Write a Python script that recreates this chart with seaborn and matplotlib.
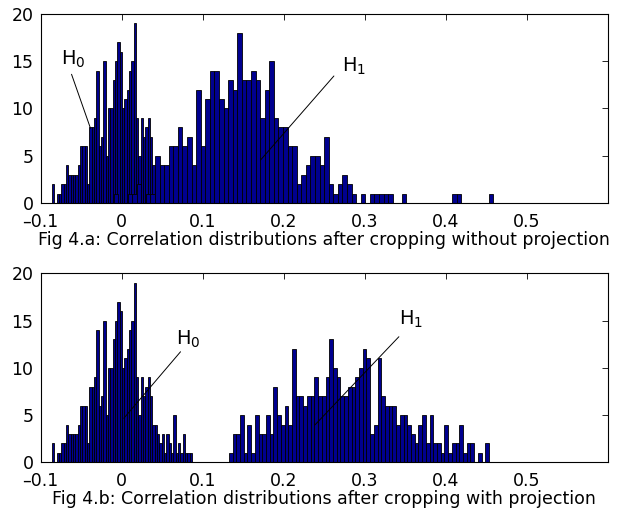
import numpy as np
import pandas as pd
import matplotlib
matplotlib.use("Agg")
import matplotlib.pyplot as plt
import seaborn as sns

# ---------------- data ----------------
# H0 histogram (same in both panels): 60 bins
h0_start, h0_width = -0.0860, 0.00288
h0_counts = [2, 0, 1, 1, 2, 2, 4, 3, 3, 3,
             3, 4, 6, 6, 6, 2, 8, 8, 9, 14,
             6, 7, 15, 5, 10, 10, 13, 15, 17, 16,
             10, 11, 12, 14, 15, 19, 9, 5, 9, 7,
             8, 9, 7, 4, 4, 3, 2, 3, 1, 3,
             2, 1, 5, 1, 2, 1, 3, 1, 1, 1]

# H1 histogram, panel a (without projection): 83 bins
h1a_start, h1a_width = -0.0094, 0.00564
h1a_counts = [1, 0, 0, 1, 1, 2, 0, 1, 1, 5,
              4, 4, 6, 6, 8, 6, 7, 4, 12, 6,
              11, 14, 14, 11, 10, 13, 12, 18, 13, 13,
              14, 13, 9, 12, 15, 9, 8, 8, 6, 6,
              2, 3, 4, 5, 5, 4, 7, 2, 1, 2,
              3, 2, 1, 0, 1, 0, 1, 1, 1, 1,
              1, 0, 0, 1, 0, 0, 0, 0, 0, 0,
              0, 0, 0, 0, 1, 1, 0, 0, 0, 0,
              0, 0, 1]

# H1 histogram, panel b (with projection): 70 bins
h1b_start, h1b_width = 0.1325, 0.004586
h1b_counts = [1, 3, 3, 5, 1, 4, 1, 5, 3, 3,
              5, 3, 8, 5, 4, 6, 4, 12, 7, 7,
              6, 7, 7, 9, 7, 7, 9, 13, 10, 9,
              7, 7, 8, 8, 9, 10, 12, 11, 3, 4,
              11, 7, 6, 6, 6, 4, 5, 5, 4, 3,
              2, 4, 5, 2, 5, 2, 2, 1, 4, 1,
              2, 2, 4, 1, 2, 2, 0, 1, 0, 2]

xticks = [-0.1, 0, 0.1, 0.2, 0.3, 0.4, 0.5]
xtick_labels = ["\u20130.1", "0", "0.1", "0.2", "0.3", "0.4", "0.5"]
yticks = [0, 5, 10, 15, 20]
captions = ["Fig 4.a: Correlation distributions after cropping without projection",
            "Fig 4.b: Correlation distributions after cropping with projection"]

BAR = "#00008F"

# ---------------- style ----------------
sns.set_style("white")
plt.rcParams["font.family"] = ["DejaVu Sans"]
plt.rcParams["mathtext.default"] = "regular"
for k in ("text.color", "axes.labelcolor", "xtick.color", "ytick.color", "axes.edgecolor"):
    plt.rcParams[k] = "black"

fig = plt.figure(figsize=(6.27, 5.13), dpi=100)
ax1 = fig.add_axes([0.0646, 0.6043, 0.9046, 0.3684])
ax2 = fig.add_axes([0.0646, 0.0988, 0.9046, 0.3684])


def draw_hist(ax, start, width, counts):
    counts = np.asarray(counts, dtype=float)
    edges = start + width * np.arange(len(counts) + 1)
    centers = 0.5 * (edges[:-1] + edges[1:])
    df = pd.DataFrame({"x": centers, "w": counts})
    sns.histplot(data=df, x="x", weights="w", bins=[float(e) for e in edges],
                 ax=ax, color=BAR, edgecolor="black", linewidth=0.6, alpha=1.0)


for ax, h1 in ((ax1, (h1a_start, h1a_width, h1a_counts)),
               (ax2, (h1b_start, h1b_width, h1b_counts))):
    draw_hist(ax, h0_start, h0_width, h0_counts)
    draw_hist(ax, *h1)
    ax.set_xlim(-0.1, 0.6)
    ax.set_ylim(0, 20)
    ax.set_xticks(xticks)
    ax.set_xticklabels(xtick_labels)
    ax.set_yticks(yticks)
    ax.set_xlabel("")
    ax.set_ylabel("")
    ax.tick_params(direction="in", length=4.5, width=0.6, top=True, right=True,
                   labelsize=12.5, colors="black")
    ax.tick_params(axis="x", pad=7)
    ax.tick_params(axis="y", pad=5)
    for s in ax.spines.values():
        s.set_visible(True)
        s.set_color("black")
        s.set_linewidth(0.8)

# annotations
ax1.text(-0.0753, 14.6, "$H_0$", fontsize=14, ha="left", va="baseline")
ax1.plot([-0.0617, -0.0383], [13.62, 7.9], color="black", lw=0.7)
ax1.text(0.2725, 13.86, "$H_1$", fontsize=14, ha="left", va="baseline")
ax1.plot([0.2621, 0.1716], [13.44, 4.55], color="black", lw=0.7)

ax2.text(0.0667, 12.41, "$H_0$", fontsize=14, ha="left", va="baseline")
ax2.plot([0.0728, 0.0028], [11.70, 4.66], color="black", lw=0.7)
ax2.text(0.342, 14.53, "$H_1$", fontsize=14, ha="left", va="baseline")
ax2.plot([0.3423, 0.2386], [13.29, 3.95], color="black", lw=0.7)

cx = 0.0646 + 0.9046 / 2
fig.text(cx, 1 - 245 / 513, captions[0], ha="center", va="baseline", fontsize=12.5)
fig.text(cx, 1 - 504.3 / 513, captions[1], ha="center", va="baseline", fontsize=12.5)

fig.savefig("out.png", dpi=100)
